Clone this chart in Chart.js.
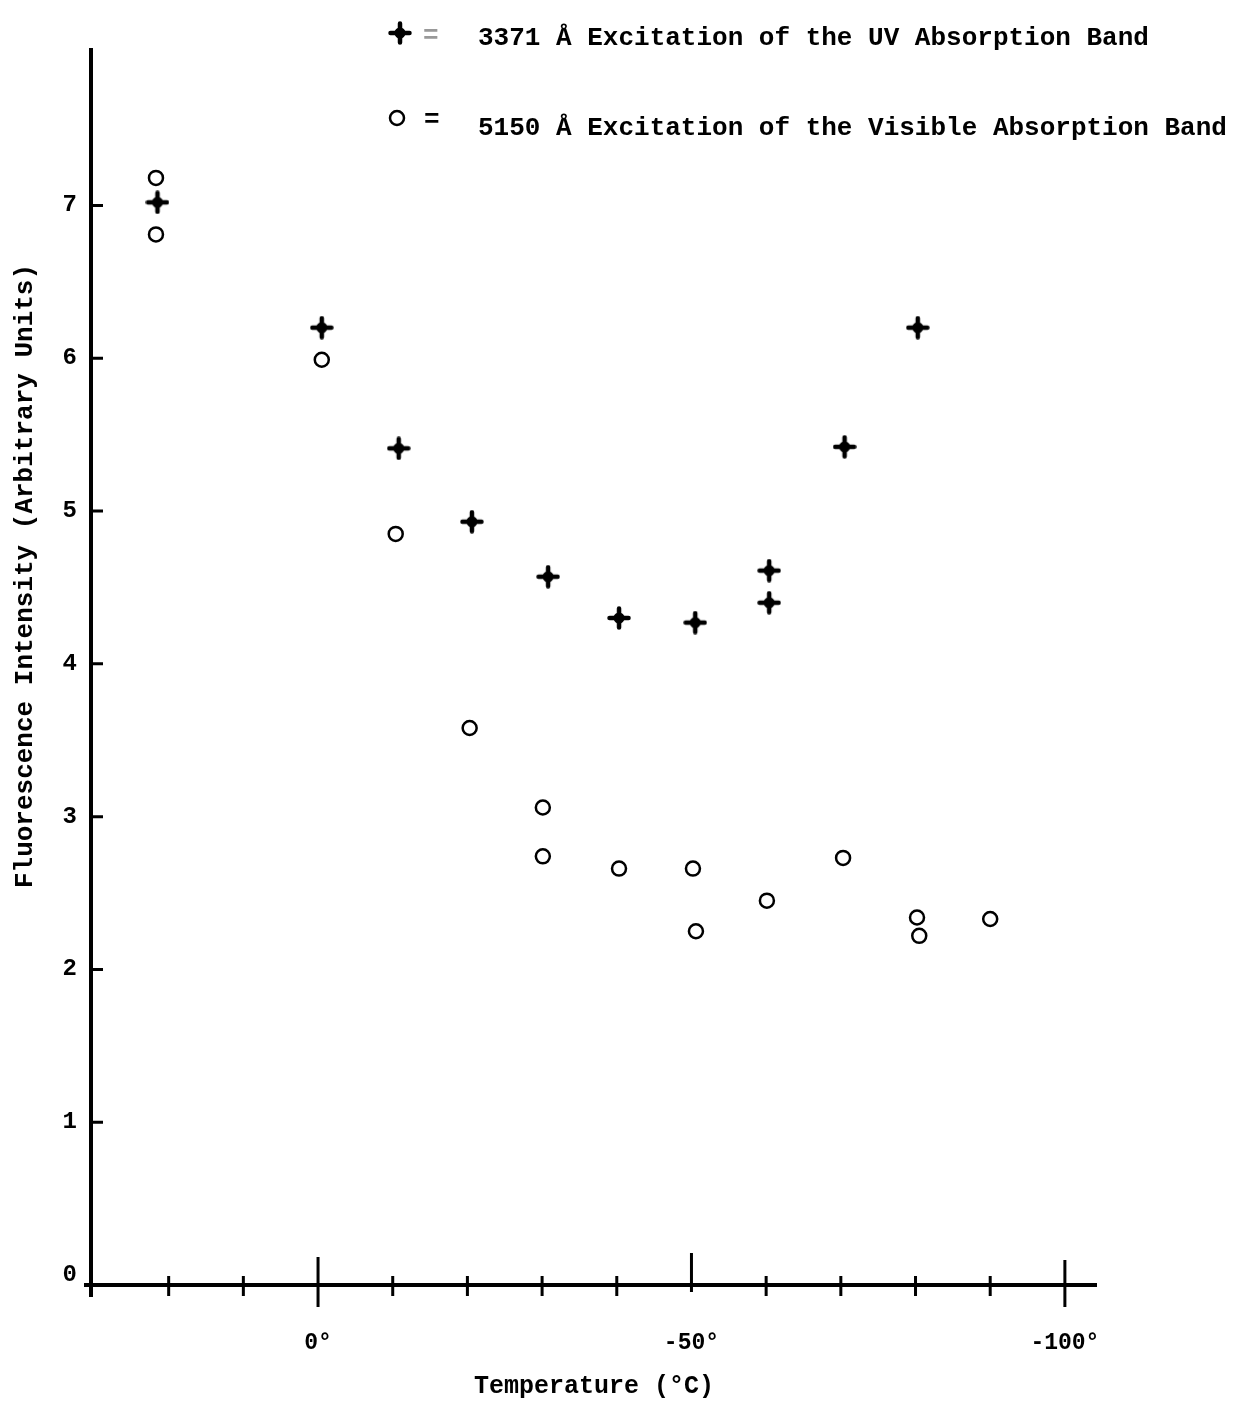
<!DOCTYPE html>
<html>
<head>
<meta charset="utf-8">
<script src="https://cdn.jsdelivr.net/npm/chart.js@4/dist/chart.umd.min.js"></script>
<style>
	html, body { margin: 0; padding: 0; background: #fff; }
	#wrap { width: 1233px; height: 1406px; position: relative; }
</style>
</head>
<body>
<div id="wrap"><canvas id="chart"></canvas></div>
<script>
// 3371 A excitation (UV band), plotted as stars
const uvTemp = [21.5, -0.5, -10.8, -20.6, -30.8, -40.3, -50.5, -60.4, -60.4, -70.5, -80.3];
const uvIntensity = [7.02, 6.20, 5.41, 4.93, 4.57, 4.30, 4.27, 4.61, 4.40, 5.42, 6.20];

// 5150 A excitation (visible band), plotted as open circles
const visTemp = [21.7, 21.7, -0.5, -10.4, -20.3, -30.1, -30.1, -40.3, -50.2, -50.6, -60.1, -70.3, -80.2, -80.5, -90.0];
const visIntensity = [7.18, 6.81, 5.99, 4.85, 3.58, 3.06, 2.74, 2.66, 2.66, 2.25, 2.45, 2.73, 2.34, 2.22, 2.33];

const xTickValues = [20, 10, 0, -10, -20, -30, -40, -50, -60, -70, -80, -90, -100];
const xMajorTicks = [0, -50, -100];
const xTickLabels = ['0°', '-50°', '-100°'];
const yTickValues = [0, 1, 2, 3, 4, 5, 6, 7];

const legendLabels = ['3371 Å Excitation of the UV Absorption Band',
	'5150 Å Excitation of the Visible Absorption Band'];

const FONT = "'Liberation Mono', 'DejaVu Sans Mono', monospace";

// tapered four-armed star like the typed "+" marks
function star(size)
{
	const c = document.createElement('canvas');
	c.width = c.height = size;
	const g = c.getContext('2d');
	const m = size / 2;
	g.fillStyle = '#000';
	g.strokeStyle = '#000';
	g.lineCap = 'round';
	g.lineWidth = 4.5;
	g.beginPath();
	g.moveTo(m, 2.5);
	g.lineTo(m, size - 2.5);
	g.moveTo(2.5, m);
	g.lineTo(size - 2.5, m);
	g.stroke();
	g.beginPath();
	g.moveTo(m, 4);
	g.quadraticCurveTo(m + 2.5, m - 2.5, size - 4, m);
	g.quadraticCurveTo(m + 2.5, m + 2.5, m, size - 4);
	g.quadraticCurveTo(m - 2.5, m + 2.5, 4, m);
	g.quadraticCurveTo(m - 2.5, m - 2.5, m, 4);
	g.fill();
	g.beginPath();
	g.arc(m, m, 5.5, 0, Math.PI * 2);
	g.fill();
	return c;
}

const starImage = star(24);

function points(xs, ys)
{
	return xs.map((x, i) => ({x, y: ys[i]}));
}

const decor = {
	id: 'decor',
	afterDraw(chart)
	{
		const {ctx, chartArea: a, scales: {x, y}} = chart;
		ctx.save();
		ctx.strokeStyle = '#000';
		ctx.fillStyle = '#000';

		// axes
		ctx.lineWidth = 4;
		ctx.beginPath();
		ctx.moveTo(a.left, a.top);
		ctx.lineTo(a.left, a.bottom + 12);
		ctx.moveTo(a.left - 7, a.bottom);
		ctx.lineTo(a.right, a.bottom);
		ctx.stroke();

		// x ticks cross the axis, the labelled ones are longer
		ctx.lineWidth = 3;
		ctx.beginPath();
		xTickValues.forEach(v =>
		{
			const px = x.getPixelForValue(v);
			let up = 9, down = 11;
			if (v === 0) { up = 28; down = 22; }
			if (v === -50) { up = 32; down = 7; }
			if (v === -100) { up = 25; down = 22; }
			ctx.moveTo(px, a.bottom - up);
			ctx.lineTo(px, a.bottom + down);
		});
		// y ticks point inward
		yTickValues.slice(1).forEach(v =>
		{
			const py = y.getPixelForValue(v);
			ctx.moveTo(a.left, py);
			ctx.lineTo(a.left + 12, py);
		});
		ctx.stroke();

		// y axis title
		ctx.font = 'bold 26px ' + FONT;
		ctx.textAlign = 'center';
		ctx.textBaseline = 'middle';
		ctx.translate(25, 576);
		ctx.rotate(-Math.PI / 2);
		ctx.fillText('Fluorescence Intensity (Arbitrary Units)', 0, 0);
		ctx.restore();

		// legend
		ctx.save();
		ctx.font = 'bold 26px ' + FONT;
		ctx.textBaseline = 'middle';
		ctx.textAlign = 'left';
		ctx.drawImage(starImage, 400 - 12, 33 - 12);
		ctx.fillStyle = '#999';
		ctx.fillText('=', 423, 36);
		ctx.fillStyle = '#000';
		ctx.fillText(legendLabels[0], 478, 38);

		ctx.lineWidth = 2.5;
		ctx.beginPath();
		ctx.arc(397, 118, 7, 0, Math.PI * 2);
		ctx.stroke();
		ctx.fillText('=', 424, 120);
		ctx.fillText(legendLabels[1], 478, 128);
		ctx.restore();
	}
};

new Chart(document.getElementById('chart'), {
	type: 'scatter',
	data: {
		datasets: [
			{label: legendLabels[0],
				data: points(uvTemp, uvIntensity),
				pointStyle: starImage,
				pointRadius: 12},
			{label: legendLabels[1],
				data: points(visTemp, visIntensity),
				pointStyle: 'circle',
				pointRadius: 7,
				borderWidth: 2.5,
				borderColor: '#000',
				backgroundColor: 'rgba(0,0,0,0)'}
		]
	},
	options: {
		responsive: true,
		maintainAspectRatio: false,
		animation: false,
		events: [],
		layout: {padding: {top: 48, right: 136, left: 0, bottom: 0}},
		plugins: {legend: {display: false}, tooltip: {enabled: false}},
		scales: {
			x: {
				type: 'linear',
				reverse: true,
				min: -104.3,
				max: 30.4,
				afterFit: s => { s.height = 121; },
				afterBuildTicks: s => { s.ticks = xTickValues.map(value => ({value})); },
				grid: {display: false, drawTicks: false},
				border: {display: false},
				ticks: {
					padding: 44,
					color: '#000',
					font: {family: FONT, size: 23, weight: 'bold'},
					maxRotation: 0,
					autoSkip: false,
					callback: v =>
					{
						const i = xMajorTicks.indexOf(v);
						return i < 0 ? '' : xTickLabels[i];
					}
				},
				title: {
					display: true,
					text: 'Temperature (°C)',
					color: '#000',
					font: {family: FONT, size: 25, weight: 'bold'},
					padding: {top: 0, bottom: 4}
				}
			},
			y: {
				type: 'linear',
				min: -0.065,
				max: 8.03,
				afterFit: s => { s.width = 91; },
				afterBuildTicks: s => { s.ticks = yTickValues.map(value => ({value})); },
				grid: {display: false, drawTicks: false},
				border: {display: false},
				ticks: {
					padding: 14,
					color: '#000',
					font: {family: FONT, size: 24, weight: 'bold'}
				}
			}
		}
	},
	plugins: [decor]
});
</script>
</body>
</html>
